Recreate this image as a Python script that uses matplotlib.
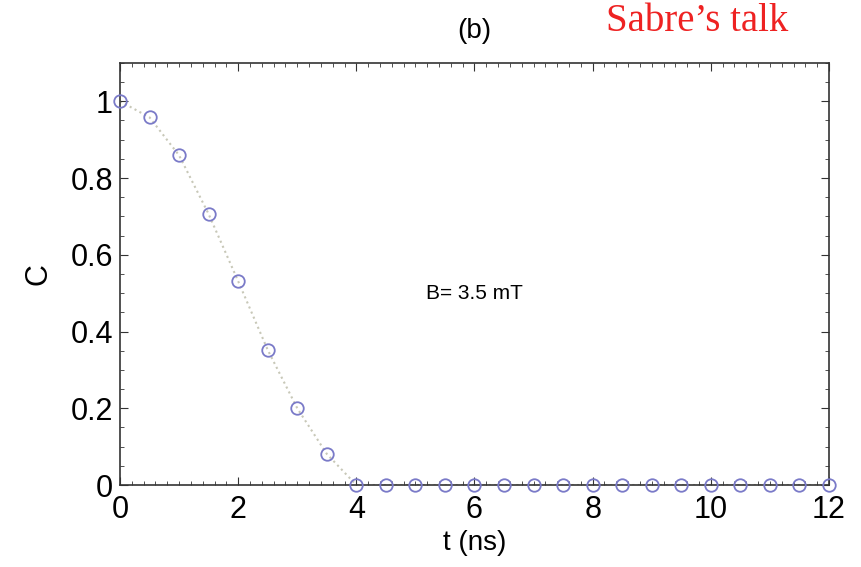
import matplotlib
matplotlib.use("Agg")
import matplotlib.pyplot as plt
from matplotlib.ticker import MultipleLocator

t = [0, 0.5, 1, 1.5, 2, 2.5, 3, 3.5, 4, 4.5, 5, 5.5, 6, 6.5, 7, 7.5, 8,
     8.5, 9, 9.5, 10, 10.5, 11, 11.5, 12]
C = [1.0, 0.958, 0.859, 0.706, 0.531, 0.352, 0.20, 0.081, 0, 0, 0, 0, 0,
     0, 0, 0, 0, 0, 0, 0, 0, 0, 0, 0, 0]

plt.rcParams['font.family'] = ['Liberation Sans', 'DejaVu Sans']
fig = plt.figure(figsize=(8.61, 5.67), dpi=100)
ax = fig.add_axes([0.1394, 0.1446, 0.8234, 0.7445])

ax.plot(t, C, linestyle=':', color='#c8c8b8', linewidth=1.5, zorder=1)
ax.plot(t, C, linestyle='none', marker='o', markersize=9, markerfacecolor='none',
        markeredgecolor='#7a7ac8', markeredgewidth=1.3, zorder=3, clip_on=False)

ax.set_xlim(0, 12)
ax.set_ylim(0, 1.1)
ax.xaxis.set_major_locator(MultipleLocator(2))
ax.xaxis.set_minor_locator(MultipleLocator(0.2))
ax.yaxis.set_minor_locator(MultipleLocator(0.05))
ax.set_yticks([0, 0.2, 0.4, 0.6, 0.8, 1])
ax.set_yticklabels(['0', '0.2', '0.4', '0.6', '0.8', '1'])
ax.tick_params(which='both', direction='in', top=True, right=True, color='#333333')
ax.tick_params(which='major', length=6, labelsize=22)
ax.tick_params(axis='x', which='major', pad=7)
ax.tick_params(axis='y', which='major', pad=5)
ax.tick_params(which='minor', length=3)
for s in ax.spines.values():
    s.set_color('#333333')
    s.set_linewidth(1.2)

ax.set_xlabel('t (ns)', fontsize=20, labelpad=4)
ax.set_ylabel('C', fontsize=22, labelpad=12)

ax.text(6.0, 0.50, 'B= 3.5 mT', fontsize=15, ha='center', va='center')
fig.text(0.551, 0.945, '(b)', fontsize=20, ha='center', va='center')
fig.text(0.81, 0.962, 'Sabre\u2019s talk', fontsize=28, ha='center', va='center',
         color='#ee2222', family=['Liberation Serif', 'DejaVu Serif'])

fig.savefig('out.png', dpi=100)
